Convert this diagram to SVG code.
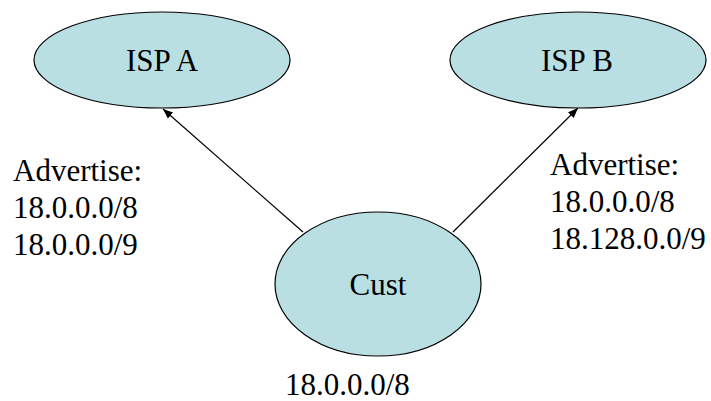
<svg xmlns="http://www.w3.org/2000/svg" width="711" height="401" viewBox="0 0 711 401">
<defs>
<style>
.node{fill:#B9DFE3;stroke:#000;stroke-width:1.2}
.t{font-family:"Liberation Serif",serif;font-size:31px;fill:#000}
.c{text-anchor:middle}
.edge{stroke:#000;stroke-width:1.2;fill:none;marker-end:url(#ah)}
</style>
<marker id="ah" viewBox="0 0 10 10" refX="10" refY="5" markerWidth="10" markerHeight="10" markerUnits="userSpaceOnUse" orient="auto">
<path d="M0,1 L10,5 L0,9 Z" fill="#000"/>
</marker>
</defs>
<rect width="711" height="401" fill="#fff"/>
<g id="connectors">
<line class="edge" x1="303" y1="232" x2="163" y2="109"/>
<line class="edge" x1="453" y1="232" x2="578" y2="108"/>
</g>
<g id="ispA">
<ellipse class="node" cx="162" cy="60" rx="128" ry="48"/>
<text class="t c" style="font-family:'Liberation Serif',serif" x="162" y="71">ISP A</text>
</g>
<g id="ispB">
<ellipse class="node" cx="578" cy="60" rx="128" ry="48"/>
<text class="t c" style="font-family:'Liberation Serif',serif" x="577" y="71">ISP B</text>
</g>
<g id="cust">
<ellipse class="node" cx="378" cy="284" rx="103" ry="72"/>
<text class="t c" style="font-family:'Liberation Serif',serif" x="378" y="295">Cust</text>
</g>
<g id="labelA">
<text class="t" style="font-family:'Liberation Serif',serif" x="13" y="181">Advertise:</text>
<text class="t" style="font-family:'Liberation Serif',serif" x="13" y="218">18.0.0.0/8</text>
<text class="t" style="font-family:'Liberation Serif',serif" x="13" y="255">18.0.0.0/9</text>
</g>
<g id="labelB">
<text class="t" style="font-family:'Liberation Serif',serif" x="550" y="175">Advertise:</text>
<text class="t" style="font-family:'Liberation Serif',serif" x="550" y="212">18.0.0.0/8</text>
<text class="t" style="font-family:'Liberation Serif',serif" x="550" y="249">18.128.0.0/9</text>
</g>
<g id="labelCust">
<text class="t" style="font-family:'Liberation Serif',serif" x="285" y="395">18.0.0.0/8</text>
</g>
</svg>
